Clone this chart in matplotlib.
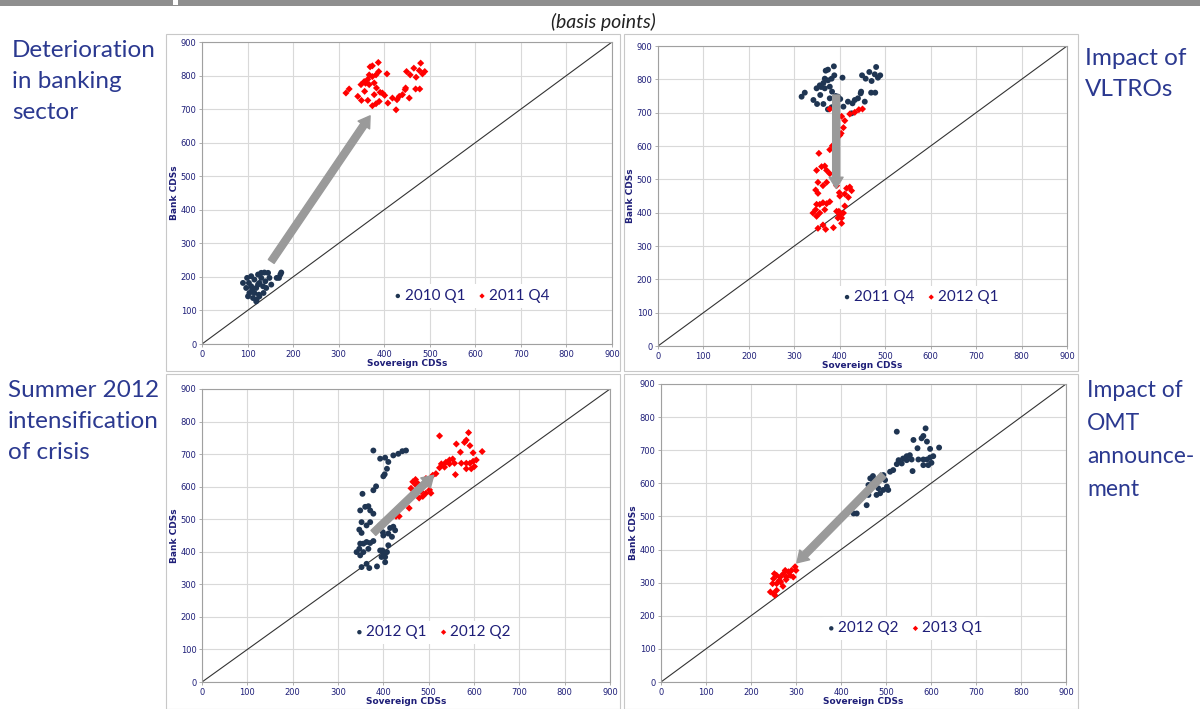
import matplotlib
matplotlib.use("Agg")
import matplotlib.pyplot as plt
from matplotlib.patches import Rectangle

# ---- data (basis points) ----
Q2010Q1_X = [90, 99, 103, 108, 115, 123, 130, 137, 145, 148, 126, 134, 119, 110, 101, 112,
             120, 125, 135, 141, 152, 169, 172, 174, 164, 119, 126, 104, 115, 97, 130, 139, 108, 123]
Q2010Q1_Y = [182, 197, 182, 202, 192, 207, 212, 213, 212, 197, 182, 172, 167, 162, 142, 137,
             132, 147, 152, 167, 177, 197, 207, 213, 197, 127, 142, 152, 152, 167, 197, 187, 172, 177]

Q2011Q4_X = [316, 323, 342, 350, 357, 364, 374, 382, 389, 356, 364, 374, 382, 388, 374, 387,
             369, 359, 367, 378, 383, 391, 396, 406, 408, 418, 426, 428, 433, 440, 446, 449,
             455, 457, 465, 470, 477, 480, 484, 489, 469, 478, 447, 349, 378, 367, 401]
Q2011Q4_Y = [748, 760, 738, 726, 753, 726, 710, 716, 723, 782, 789, 797, 802, 812, 829, 839,
             826, 777, 773, 778, 763, 750, 748, 805, 718, 733, 698, 728, 738, 743, 758, 812,
             733, 802, 822, 795, 815, 837, 805, 812, 760, 760, 763, 773, 743, 802, 741]

Q2012Q1_X = [378, 393, 404, 411, 408, 403, 400, 422, 433, 442, 450, 354, 378, 384, 349, 360,
             367, 371, 378, 352, 371, 347, 352, 363, 393, 399, 400, 415, 422, 426, 419, 411,
             349, 356, 363, 371, 378, 347, 341, 349, 356, 367, 393, 400, 408, 396, 404, 411,
             404, 352, 363, 369, 386, 398]
Q2012Q1_Y = [711, 686, 689, 676, 655, 638, 632, 696, 701, 709, 711, 578, 589, 601, 527, 538,
             540, 527, 517, 491, 491, 468, 458, 481, 481, 460, 450, 473, 477, 466, 446, 456,
             425, 425, 430, 427, 433, 409, 399, 389, 399, 409, 404, 394, 399, 384, 384, 420,
             368, 353, 363, 350, 355, 404]

Q2012Q2_X = [524, 588, 583, 579, 561, 591, 598, 618, 570, 546, 553, 538, 528, 535, 546, 557,
             572, 583, 591, 598, 605, 583, 594, 601, 559, 524, 516, 509, 498, 502, 505, 494,
             483, 479, 487, 476, 471, 465, 461, 461, 457, 428, 435, 472, 494]
Q2012Q2_Y = [756, 766, 743, 736, 731, 726, 704, 708, 706, 682, 685, 675, 670, 660, 670, 672,
             672, 672, 672, 678, 682, 655, 655, 662, 637, 658, 640, 635, 610, 590, 580, 580,
             585, 565, 570, 610, 622, 615, 595, 565, 534, 509, 509, 605, 625]

Q2013Q1_X = [243, 250, 257, 253, 248, 250, 257, 265, 272, 276, 283, 287, 294, 279, 271, 263,
             298, 300, 290, 257, 266, 278, 252]
Q2013Q1_Y = [272, 267, 277, 262, 297, 312, 322, 317, 327, 337, 333, 322, 317, 317, 289, 307,
             348, 337, 337, 297, 302, 309, 327]

SERIES = {
    "2010 Q1": (Q2010Q1_X, Q2010Q1_Y),
    "2011 Q4": (Q2011Q4_X, Q2011Q4_Y),
    "2012 Q1": (Q2012Q1_X, Q2012Q1_Y),
    "2012 Q2": (Q2012Q2_X, Q2012Q2_Y),
    "2013 Q1": (Q2013Q1_X, Q2013Q1_Y),
}

# (before, after, arrow tail, arrow head)
PANEL_PAIRS = [
    ("2010 Q1", "2011 Q4", (152, 246), (369, 680)),
    ("2011 Q4", "2012 Q1", (392, 753), (392, 473)),
    ("2012 Q1", "2012 Q2", (378, 458), (511, 635)),
    ("2012 Q2", "2013 Q1", (494, 625), (302, 360)),
]

# text, x px, y px, font size
SIDE_LABELS = [
    ("Deterioration\nin banking\nsector", 12, 40, 17.5),
    ("Impact of\nVLTROs", 1085, 48, 17.5),
    ("Summer 2012\nintensification\nof crisis", 8, 380, 17.5),
    ("Impact of\nOMT\nannounce-\nment", 1087, 380, 16.5),
]

TICKS = list(range(0, 1000, 100))
LIMITS = [0, 900]

# ---- styling ----
NAVY = "#1f3552"
RED = "#ff0000"
TEXT_BLUE = "#2b3990"
TICK_BLUE = "#1e1e78"
GRID = "#d9d9d9"

W, H = 1200, 709

# axes boxes in pixels: left, top, right, bottom
AX_PX = [
    (202, 42, 612, 344),
    (658, 46, 1067, 346),
    (202, 389, 610, 682),
    (661, 384, 1066, 682),
]
FRAME_PX = [
    (166, 34, 620, 371),
    (624, 34, 1078, 371),
    (166, 374, 620, 709),
    (624, 374, 1078, 709),
]
LEGEND_POS = [(0.655, 0.159), (0.64, 0.163), (0.564, 0.17), (0.60, 0.18)]

fig = plt.figure(figsize=(W / 100, H / 100), dpi=100)
fig.patch.set_facecolor("white")

# grey title strip along the top edge
fig.add_artist(Rectangle((0, 1 - 6 / H), 1, 6 / H, transform=fig.transFigure,
                         facecolor="#8f8f8f", edgecolor="none"))
fig.add_artist(Rectangle((173 / W, 1 - 5 / H), 5 / W, 5 / H, transform=fig.transFigure,
                         facecolor="white", edgecolor="none"))

for (l, t, r, b) in FRAME_PX:
    fig.add_artist(Rectangle((l / W, 1 - b / H), (r - l) / W, (b - t) / H,
                             transform=fig.transFigure, facecolor="none",
                             edgecolor="#c8c8c8", linewidth=0.8))

fig.text(603 / W, 1 - 22 / H, "(basis points)", ha="center", va="center",
         fontsize=14, style="italic", color="#222222", family="Lato")

for txt, x, y, fs in SIDE_LABELS:
    fig.text(x / W, 1 - y / H, txt, ha="left", va="top", fontsize=fs,
             color=TEXT_BLUE, family="Lato", linespacing=1.6 * 17.5 / fs)

for i, (before, after, tail, head) in enumerate(PANEL_PAIRS):
    l, t, r, b = AX_PX[i]
    ax = fig.add_axes([l / W, 1 - b / H, (r - l) / W, (b - t) / H])
    ax.set_xlim(LIMITS)
    ax.set_ylim(LIMITS)
    ax.set_xticks(TICKS)
    ax.set_yticks(TICKS)
    ax.grid(True, color=GRID, linewidth=0.8, zorder=0)
    ax.set_axisbelow(True)
    for sp in ax.spines.values():
        sp.set_color("#a0a0a0")
        sp.set_linewidth(0.8)
    ax.tick_params(axis="both", length=2, width=0.6, color="#a0a0a0",
                   labelsize=6, labelcolor=TICK_BLUE, pad=2)

    ax.plot(LIMITS, LIMITS, color="#333333", linewidth=0.8, zorder=2)

    bx, by = SERIES[before]
    axx, ayy = SERIES[after]
    ax.scatter(bx, by, s=18, marker="o", color=NAVY, edgecolor="none",
               zorder=3, label=before)
    ax.scatter(axx, ayy, s=13, marker="D", color=RED, edgecolor="none",
               zorder=3, label=after)

    ax.annotate("", xy=head, xytext=tail,
                arrowprops=dict(arrowstyle="simple,head_width=1.0,head_length=0.8,tail_width=0.5",
                                color="#9a9a9a", shrinkA=0, shrinkB=0),
                zorder=4)

    ax.set_xlabel("Sovereign CDSs", fontsize=6.5, fontweight="bold",
                  color=TICK_BLUE, labelpad=0)
    ax.set_ylabel("Bank CDSs", fontsize=6.5, fontweight="bold",
                  color=TICK_BLUE, labelpad=1)

    leg = ax.legend(loc="center", bbox_to_anchor=LEGEND_POS[i], ncol=2,
                    frameon=True, framealpha=1, edgecolor="none",
                    labelcolor=TICK_BLUE, handletextpad=0.05,
                    columnspacing=0.7, markerscale=0.75, borderpad=0.3,
                    handlelength=0.8, prop={"family": "Lato", "size": 11})
    leg.set_zorder(5)

fig.savefig("out.png", dpi=100, facecolor="white")
